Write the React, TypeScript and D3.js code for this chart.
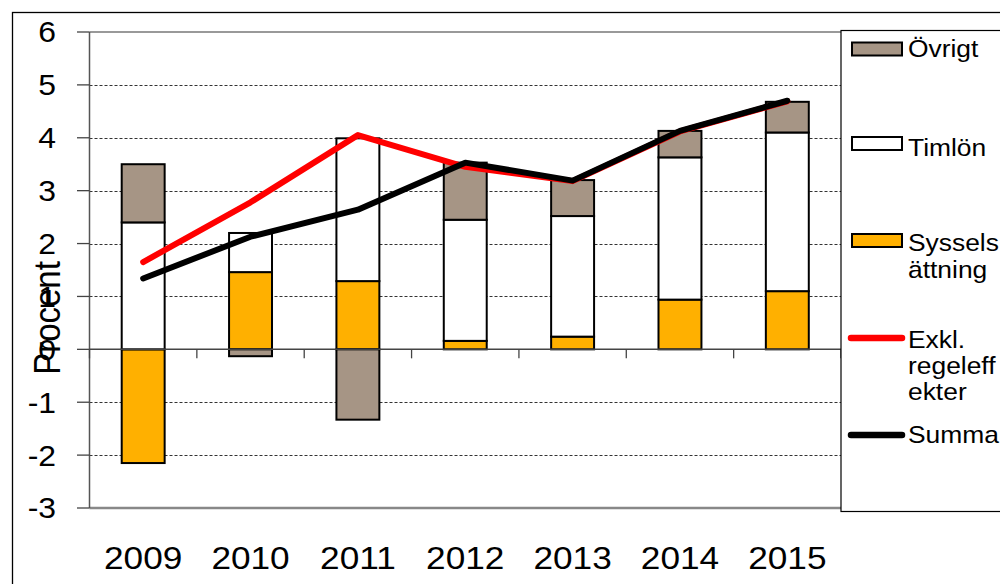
import React from "react";
import * as d3 from "d3";

const years = ["2009", "2010", "2011", "2012", "2013", "2014", "2015"];
const sysselsattning = [-2.15, 1.46, 1.29, 0.16, 0.24, 0.94, 1.1];
const timlon = [2.4, 0.74, 2.7, 2.29, 2.28, 2.69, 3.0];
const ovrigt = [1.1, -0.13, -1.33, 1.08, 0.68, 0.5, 0.58];
const exklRegeleffekter = [1.65, 2.78, 4.05, 3.45, 3.18, 4.12, 4.69];
const summa = [1.34, 2.13, 2.64, 3.53, 3.19, 4.13, 4.7];
const yTicks = [6, 5, 4, 3, 2, 1, 0, -1, -2, -3];

const seriesKeys = ["syss", "timlon", "ovrigt"];
const seriesColors: Record<string, string> = {
  syss: "#FFB000",
  timlon: "#FFFFFF",
  ovrigt: "#A69585",
};

const FONT = "'Liberation Sans', Arial, sans-serif";
const SX = 1.1;

export default function App() {
  const left = 89.5;
  const right = 841;
  const top = 32;
  const bottom = 508;

  const x = d3
    .scaleBand<string>()
    .domain(years)
    .range([left, right])
    .paddingInner(0.6)
    .paddingOuter(0.3);
  const y = d3.scaleLinear().domain([-3, 6]).range([bottom, top]);

  const rows = years.map((yr, i) => ({
    year: yr,
    syss: sysselsattning[i],
    timlon: timlon[i],
    ovrigt: ovrigt[i],
  }));
  const stacked = d3
    .stack<any>()
    .keys(seriesKeys)
    .offset(d3.stackOffsetDiverging)(rows);

  const cx = (yr: string) => (x(yr) as number) + x.bandwidth() / 2;
  const line = d3
    .line<number>()
    .x((_, i) => cx(years[i]))
    .y((v) => y(v));

  const step = x.step();
  const boundaries = d3.range(0, years.length + 1).map((k) => left + k * step);

  const legendItems = [
    { key: "ovrigt", type: "box", lines: ["Övrigt"], sy: 42.5, ty: [57] },
    { key: "timlon", type: "box", lines: ["Timlön"], sy: 137, ty: [156] },
    { key: "syss", type: "box", lines: ["Syssels", "ättning"], sy: 234, ty: [251, 278] },
    { key: "exkl", type: "line", color: "#FF0000", lines: ["Exkl.", "regeleff", "ekter"], sy: 338, ty: [348, 374, 400] },
    { key: "summa", type: "line", color: "#000000", lines: ["Summa"], sy: 435, ty: [443] },
  ];

  return (
    <svg
      width={1000}
      height={584}
      style={{ position: "absolute", left: 0, top: 0, background: "#fff" }}
      fontFamily={FONT}
    >
      <rect x={0} y={0} width={1000} height={584} fill="#fff" />
      <rect x={12.5} y={12.5} width={1000} height={600} fill="none" stroke="#000" strokeWidth={1.3} />

      {/* gridlines */}
      {yTicks
        .filter((t) => t !== 6 && t !== -3 && t !== 0)
        .map((t) => (
          <line
            key={"g" + t}
            x1={left}
            x2={right}
            y1={Math.round(y(t)) + 0.5}
            y2={Math.round(y(t)) + 0.5}
            stroke="#333"
            strokeWidth={1}
            strokeDasharray="3,2"
          />
        ))}
      {/* plot frame */}
      <line x1={left} x2={right} y1={top} y2={top} stroke="#999" strokeWidth={2} />
      <line x1={left} x2={right} y1={bottom} y2={bottom} stroke="#888" strokeWidth={2.5} />
      <line x1={left} x2={left} y1={top} y2={bottom} stroke="#555" strokeWidth={1.5} />
      {/* y ticks */}
      {yTicks.map((t) => (
        <line key={"t" + t} x1={77} x2={left} y1={y(t)} y2={y(t)} stroke="#444" strokeWidth={1.3} />
      ))}

      {/* bars */}
      {stacked.map((s) => (
        <g key={s.key}>
          {s.map((d, i) => {
            const y0 = y(Math.max(d[0], d[1]));
            const y1 = y(Math.min(d[0], d[1]));
            return (
              <rect
                key={i}
                x={x(years[i]) as number}
                y={y0}
                width={x.bandwidth()}
                height={Math.max(0, y1 - y0)}
                fill={seriesColors[s.key]}
                stroke="#000"
                strokeWidth={2}
              />
            );
          })}
        </g>
      ))}

      {/* zero axis */}
      <line x1={left} x2={right} y1={y(0)} y2={y(0)} stroke="#444" strokeWidth={1.5} />
      {boundaries.map((b, k) => (
        <line key={"c" + k} x1={b} x2={b} y1={y(0)} y2={y(0) + 9} stroke="#444" strokeWidth={1.3} />
      ))}

      {/* lines */}
      <path d={line(exklRegeleffekter) || ""} fill="none" stroke="#FF0000" strokeWidth={6} strokeLinejoin="round" strokeLinecap="round" />
      <path d={line(summa) || ""} fill="none" stroke="#000" strokeWidth={6} strokeLinejoin="round" strokeLinecap="round" />

      {/* y labels */}
      {yTicks.map((t) => (
        <text
          key={"yl" + t}
          transform={`translate(56,${y(t)}) scale(${SX},1)`}
          textAnchor="end"
          dy="0.36em"
          fontSize={29}
          fill="#000"
        >
          {t}
        </text>
      ))}
      {/* x labels */}
      {years.map((yr) => (
        <text
          key={"xl" + yr}
          transform={`translate(${cx(yr)},569) scale(${SX},1)`}
          textAnchor="middle"
          fontSize={32}
          fill="#000"
        >
          {yr}
        </text>
      ))}
      {/* y title */}
      <text
        transform={`translate(60,318) scale(${SX},1) rotate(-90)`}
        textAnchor="middle"
        fontSize={33}
        fill="#000"
      >
        Procent
      </text>

      {/* legend */}
      <rect x={841} y={30.5} width={200} height={481} fill="#fff" stroke="#000" strokeWidth={1.2} />
      {legendItems.map((it) => (
        <g key={it.key}>
          {it.type === "box" ? (
            <rect x={852} y={it.sy} width={50} height={13} fill={seriesColors[it.key]} stroke="#000" strokeWidth={2} />
          ) : (
            <line x1={851} x2={902} y1={it.sy} y2={it.sy} stroke={it.color} strokeWidth={6.5} strokeLinecap="round" />
          )}
          {it.lines.map((ln, j) => (
            <text
              key={j}
              transform={`translate(908,${it.ty[j]}) scale(${SX},1)`}
              fontSize={24}
              fill="#000"
            >
              {ln}
            </text>
          ))}
        </g>
      ))}
    </svg>
  );
}
